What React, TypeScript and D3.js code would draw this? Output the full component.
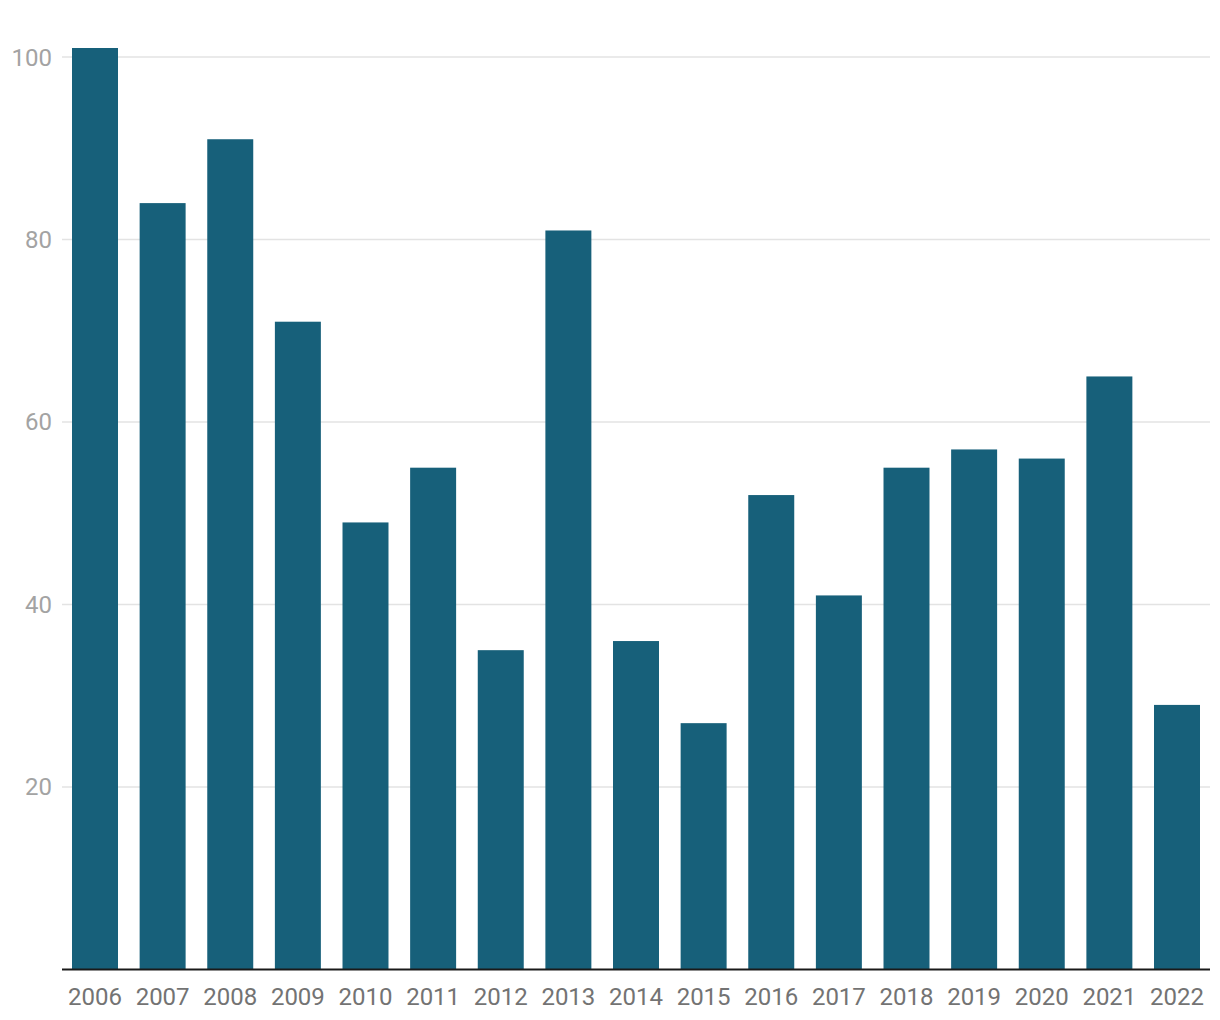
import React from "react";
import * as d3 from "d3";

const years = ["2006","2007","2008","2009","2010","2011","2012","2013","2014","2015","2016","2017","2018","2019","2020","2021","2022"];
const values = [101,84,91,71,49,55,35,81,36,27,52,41,55,57,56,65,29];
const yTicks = [20,40,60,80,100];

export default function App() {
  const W = 1220, H = 1020;
  const left = 62, right = 1210, top = 48, bottom = 969.5;
  const x = d3.scaleBand<string>().domain(years).range([left, right]).paddingInner(0.32).paddingOuter(0.148);
  const y = d3.scaleLinear().domain([0, 101]).range([bottom, top]);
  return (
    <svg width={W} height={H} style={{ position: "absolute", left: 0, top: 0 }} fontFamily="Roboto">
      {yTicks.map(t => (
        <g key={t}>
          <line x1={left} x2={right} y1={y(t)} y2={y(t)} stroke="#e3e3e3" strokeWidth={1.5} />
          <text x={52} y={y(t)} dy="0.35em" textAnchor="end" fontSize={24} fill="#a3a3a3">{t}</text>
        </g>
      ))}
      {years.map((yr, i) => (
        <rect key={yr} x={x(yr)} y={y(values[i])} width={x.bandwidth()} height={bottom - y(values[i])} fill="#17607a" />
      ))}
      <line x1={left} x2={right} y1={bottom} y2={bottom} stroke="#1a1a1a" strokeWidth={2} />
      {years.map(yr => (
        <text key={yr} x={(x(yr) as number) + x.bandwidth() / 2} y={1004.5} textAnchor="middle" fontSize={24} fill="#737373">{yr}</text>
      ))}
    </svg>
  );
}
